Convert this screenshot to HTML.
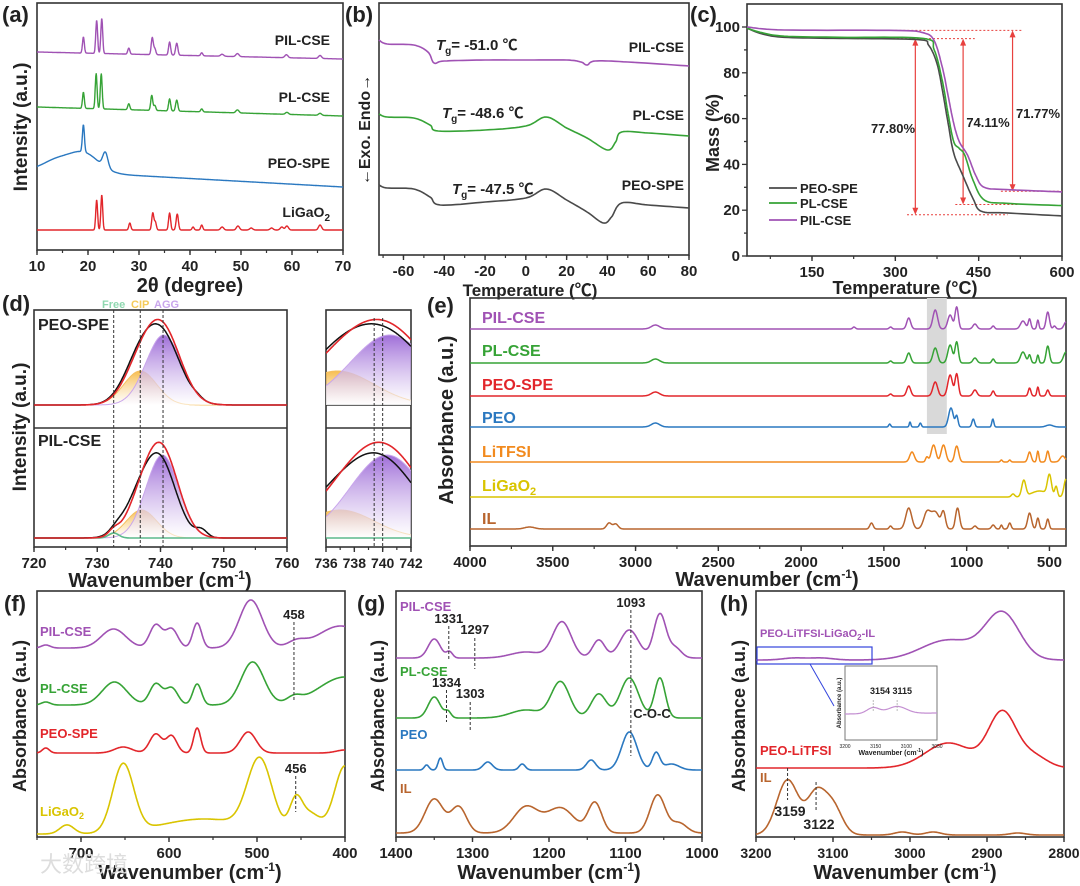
<!DOCTYPE html>
<html><head><meta charset="utf-8"><title>Composite figure</title>
<style>html,body{margin:0;padding:0;background:#fff}svg{display:block}</style>
</head><body>
<svg id="fig" width="1080" height="886" viewBox="0 0 1080 886" xmlns="http://www.w3.org/2000/svg">
<defs>
<linearGradient id="gAgg" x1="0" y1="0" x2="0" y2="1"><stop offset="0" stop-color="#9a66d6" stop-opacity="0.95"/><stop offset="1" stop-color="#ffffff" stop-opacity="0.6"/></linearGradient>
<linearGradient id="gCip" x1="0" y1="0" x2="0" y2="1"><stop offset="0" stop-color="#f6b63c" stop-opacity="0.9"/><stop offset="1" stop-color="#ffffff" stop-opacity="0.6"/></linearGradient>
<linearGradient id="gFree" x1="0" y1="0" x2="0" y2="1"><stop offset="0" stop-color="#59b98a" stop-opacity="0.9"/><stop offset="1" stop-color="#ffffff" stop-opacity="0.6"/></linearGradient>
<clipPath id="cDtop"><rect x="34" y="310" width="253" height="118"/></clipPath>
<clipPath id="cDbot"><rect x="34" y="428" width="253" height="119"/></clipPath>
<clipPath id="cItop"><rect x="326" y="310" width="85" height="95"/></clipPath>
<clipPath id="cIbot"><rect x="326" y="428" width="85" height="119"/></clipPath>
</defs>
</svg>
<script>
// ---------------- DATA ----------------
const xrdTicks=[10,20,30,40,50,60,70];
const xrdPIL=[[19.1,16,0.18],[21.7,33,0.18],[22.7,35,0.18],[28,6,0.2],[32.6,17,0.2],[33.1,6,0.2],[36,13,0.2],[37.4,12,0.22],[42.3,3,0.2],[46.3,2,0.3],[49.3,3,0.3],[58.9,3,0.3],[65.5,3,0.3]];
const xrdPL=[[19.1,16,0.18],[21.6,35,0.18],[22.6,35,0.18],[28,6,0.2],[32.5,15,0.2],[33.1,5,0.2],[36,12,0.2],[37.4,11,0.22],[42.3,3,0.2],[49.3,3,0.3],[59,2,0.3],[65.5,2,0.3]];
const xrdPEO=[[13.5,9,2.5],[19,20,3],[19.1,27,0.2],[23.4,15,0.5]];
const xrdLGO=[[21.7,30,0.18],[22.7,35,0.18],[28.2,7,0.2],[32.7,17,0.2],[33.2,8,0.2],[36,17,0.2],[37.5,16,0.22],[40.6,3,0.2],[42.3,5,0.2],[46.3,3,0.3],[49.4,4,0.3],[52,2,0.3],[56,2,0.3],[58,3,0.3],[59,4,0.3],[65.5,5,0.3]];
const xrdBgPIL=[7,0], xrdBgPL=[9,0], xrdBgPEO=[17,0], xrdBgLGO=[0,0];
const dscTicks=[-60,-40,-20,0,20,40,60,80];
const dscPIL=[[-72,30],[-68,26],[-55,25],[-48,18],[-45,7],[-40,9],[-20,10],[0,10],[20,10],[27,8],[30,5],[34,9],[50,8],[80,4]];
const dscPL=[[-72,36],[-68,33],[-55,32],[-47,25],[-43,19],[-20,20],[0,24],[10,33],[20,22],[30,12],[40,0],[44,8],[47,18],[60,17],[80,14]];
const dscPEO=[[-72,40],[-68,37],[-55,36],[-47,28],[-42,20],[-20,23],[0,27],[10,36],[20,25],[30,13],[38,2],[42,8],[47,22],[60,20],[80,17]];
const tgaTicks=[150,300,450,600], massTicks=[0,20,40,60,80,100];
const tgaPEO=[[33,99.5],[60,97],[100,95.5],[200,95],[340,94.5],[360,92],[375,84],[385,72],[395,58],[405,45],[420,36],[440,25],[455,19.5],[500,18.8],[600,17.5]];
const tgaPL=[[33,99.5],[60,97.5],[100,96],[200,95.5],[350,95],[370,90],[385,76],[395,62],[405,50],[415,47],[425,44],[440,33],[460,24.5],[500,23],[600,22]];
const tgaPIL=[[33,100],[100,98.7],[300,98.5],[350,97.5],[370,94],[385,82],[395,70],[405,58],[415,50],[430,44],[445,35],[460,30],[500,29],[600,28]];
const lossValues=['77.80%','74.11%','71.77%'];
const dTicks=[720,730,740,750,760], dInsetTicks=[736,738,740,742];
const dTopAgg=[[740.5,70,2.8]], dTopCip=[[736.8,34,2.6]];
const dTopExp=[[740.2,68,2.9],[736.4,32,2.5],[745.8,2,0.8]];
const dBotAgg=[[740.3,83,2.6]], dBotCip=[[737,28,2.4]], dBotFree=[[732.6,5,0.8]];
const dBotExp=[[739.8,78,2.6],[736,24,2.3],[746.5,7,0.9],[733,4,1]];
const dMarkers=[732.6,736.8,740.4];
const eTicks=[4000,3500,3000,2500,2000,1500,1000,500];
const ePIL=[[2880,4,25],[1680,2,8],[1460,2,8],[1350,11,12],[1190,19,14],[1100,14,14],[1060,22,10],[950,5,12],[840,3,8],[660,8,15],[620,10,8],[570,9,6],[510,17,10],[470,3,8],[400,7,12]];
const ePL=[[2880,4,25],[1460,2,8],[1350,10,12],[1190,15,14],[1100,18,14],[1060,21,10],[950,5,12],[840,4,8],[660,11,15],[620,8,8],[570,8,6],[510,17,10],[400,11,15]];
const ePEOSPE=[[2880,4,25],[1460,2,8],[1350,10,12],[1190,14,14],[1100,21,14],[1060,22,10],[950,6,12],[840,5,8],[620,8,8],[570,9,6],[510,6,8]];
const ePEO=[[2880,4,25],[1465,3,6],[1342,5,5],[1280,4,6],[1095,19,14],[1060,11,8],[960,8,8],[842,8,6],[500,2,20]];
const eLiTFSI=[[1330,10,14],[1240,5,8],[1200,17,14],[1140,17,14],[1060,16,12],[790,2,6],[740,2,6],[620,10,10],[570,11,6],[510,11,8],[420,6,15]];
const eLGO=[[720,3,10],[655,16,12],[560,6,50],[500,20,12],[460,10,8],[400,18,12]];
const eIL=[[3640,2,30],[3160,6,15],[3120,5,15],[1575,6,10],[1460,3,8],[1350,21,18],[1240,16,20],[1190,17,25],[1140,16,12],[1055,21,12],[950,3,10],[840,4,10],[790,4,6],[740,6,8],[620,16,12],[570,11,8],[510,10,8]];
const fTicks=[700,600,500,400];
const fPIL=[[740,3,5],[663,19,14],[615,23,7],[597,19,7],[568,25,5],[507,48,13],[455,6,10],[405,22,25]];
const fPL=[[740,3,5],[662,23,14],[615,21,7],[597,17,7],[568,21,5],[505,43,13],[458,6,8],[400,28,30]];
const fPEO=[[740,5,4],[652,6,10],[615,19,7],[597,17,6],[568,25,4],[510,21,9],[400,3,10]];
const fLGO=[[716,9,8],[652,68,12],[560,15,50],[497,70,14],[456,28,7],[440,20,12],[400,68,12]];
const gTicks=[1400,1300,1200,1100,1000];
const gPIL=[[1350,19,8],[1330,6,4],[1230,6,20],[1183,36,12],[1135,18,8],[1095,28,12],[1055,44,8],[1035,10,8]];
const gPL=[[1350,21,8],[1332,6,4],[1230,8,20],[1185,36,12],[1135,24,10],[1095,40,12],[1055,40,7]];
const gPEO=[[1360,5,3],[1342,12,3],[1280,8,6],[1235,6,4],[1145,10,6],[1095,38,10],[1060,17,5],[1040,6,10]];
const gIL=[[1350,34,12],[1318,26,10],[1230,26,16],[1185,25,18],[1140,30,9],[1058,38,10],[1030,10,10]];
const hTicks=[3200,3100,3000,2900,2800];
const hPIL=[[2880,46,22],[2950,20,35],[3150,2,15],[3115,2,15]];
const hPEOL=[[2880,55,18],[2950,25,30],[2840,12,18]];
const hIL=[[3159,55,14],[3122,40,12],[3100,28,12],[3010,3,10],[2970,3,10],[2860,2,10]];
const hInset=[[3154,6,10],[3115,7,15]];

// ---------------- HELPERS ----------------
const NS='http://www.w3.org/2000/svg';
const svg=document.getElementById('fig');
const FONT='"Liberation Sans","Noto Sans CJK SC",sans-serif';
function mk(tag,attrs,parent){const e=document.createElementNS(NS,tag);for(const k in attrs)e.setAttribute(k,attrs[k]);(parent||svg).appendChild(e);return e;}
function txt(x,y,s,o,parent){o=o||{};const e=mk('text',{x:x,y:y,'font-size':o.fs||14,'font-weight':o.fw||'bold',fill:o.fill||'#222','text-anchor':o.anchor||'start','font-family':FONT},parent);if(o.rot)e.setAttribute('transform','rotate('+o.rot+' '+x+' '+y+')');if(o.html)e.innerHTML=s;else e.textContent=s;return e;}
function axis(x0,y0,x1,y1,xa,xb,parent){const r=mk('rect',{x:x0,y:y0,width:x1-x0,height:y1-y0,fill:'none',stroke:'#333','stroke-width':1.6},parent);
 
 
 return {x0:x0,y0:y0,x1:x1,y1:y1,xa:xa,xb:xb,X:function(v){return x0+(v-xa)/(xb-xa)*(x1-x0);}};}
function xticks(ax,ticks,minorStep,fs,parent){
 const lo=Math.min(ax.xa,ax.xb),hi=Math.max(ax.xa,ax.xb);
 for(let v=Math.ceil(lo/minorStep)*minorStep;v<=hi+1e-9;v+=minorStep){const x=ax.X(v);const l=mk('line',{x1:x,y1:ax.y1,x2:x,y2:ax.y1+3,stroke:'#333','stroke-width':1.2},parent);
  
  }
 ticks.forEach(function(v){const x=ax.X(v);const l=mk('line',{x1:x,y1:ax.y1,x2:x,y2:ax.y1+5,stroke:'#333','stroke-width':1.4},parent);
  
  
  const t=txt(x,ax.y1+21,String(v),{fs:fs||15,anchor:'middle'},parent);
  
  });}
function gsum(p,v){let s=0;for(const q of p)s+=q[1]*Math.exp(-((v-q[0])*(v-q[0]))/(2*q[2]*q[2]));return s;}
function specPts(ax,peaks,off,bg,n){bg=bg||[0,0];n=n||700;const pts=[];for(let i=0;i<=n;i++){const f=i/n;const v=ax.xa+(ax.xb-ax.xa)*f;pts.push([ax.X(v),off-(bg[0]+(bg[1]-bg[0])*f+gsum(peaks,v))]);}return pts;}
function pathD(pts){return 'M'+pts.map(function(p){return p[0].toFixed(1)+','+p[1].toFixed(1);}).join('L');}
function line(pts,color,w,parent,extra){const a={d:pathD(pts),fill:'none',stroke:color,'stroke-width':w||1.6,'stroke-linejoin':'round'};if(extra)for(const k in extra)a[k]=extra[k];return mk('path',a,parent);}
function catmull(arr){const out=[];for(let i=0;i<arr.length-1;i++){const p0=arr[Math.max(0,i-1)],p1=arr[i],p2=arr[i+1],p3=arr[Math.min(arr.length-1,i+2)];for(let k=0;k<10;k++){const t=k/10,t2=t*t,t3=t2*t;const f=function(a,b,c,d){return 0.5*(2*b+(-a+c)*t+(2*a-5*b+4*c-d)*t2+(-a+3*b-3*c+d)*t3);};out.push([f(p0[0],p1[0],p2[0],p3[0]),f(p0[1],p1[1],p2[1],p3[1])]);}}out.push(arr[arr.length-1]);return out;}
function grp(name){const g=mk('g',{});return g;}
const C={pur:'#a052b4',grn:'#36a336',blu:'#2a78c0',red:'#e2262b',org:'#f28a1e',yel:'#d9c400',brn:'#b8652e',drk:'#4a4a4a'};

// ---------------- (a) XRD ----------------
(function(){const g=grp('panel-a-xrd');
 const ax=axis(37,3,343,250,10,70,g);
 xticks(ax,xrdTicks,5,15,g);
 const series=[[xrdPIL,59,xrdBgPIL,C.pur,'PIL-CSE',45],[xrdPL,116,xrdBgPL,C.grn,'PL-CSE',102],[xrdPEO,187,xrdBgPEO,C.blu,'PEO-SPE',168],[xrdLGO,230,xrdBgLGO,C.red,'LiGaO<tspan font-size="10" dy="4">2</tspan>',217]];
 series.forEach(function(s){const p=line(specPts(ax,s[0],s[1],s[2],900),s[3],1.4,g);
  
  
  const t=txt(330,s[5],s[4],{fs:14,anchor:'end',html:true},g);
  
  });
 const t1=txt(190,292,'2θ (degree)',{fs:20,anchor:'middle'},g);
 
 
 const t2=txt(27,127,'Intensity (a.u.)',{fs:19,anchor:'middle',rot:-90},g);
 
 
 const t3=txt(2,22,'(a)',{fs:22},g);
 
 
})();

// ---------------- (b) DSC ----------------
(function(){const g=grp('panel-b-dsc');
 const ax=axis(379,3,689,255,-72,80,g);
 xticks(ax,dscTicks,10,15,g);
 const series=[[dscPIL,70,C.pur,'PIL-CSE',52,'-51.0',436,50],[dscPL,150,C.grn,'PL-CSE',120,'-48.6',442,118],[dscPEO,225,C.drk,'PEO-SPE',190,'-47.5',452,194]];
 series.forEach(function(s){const pts=catmull(s[0].map(function(d){return [ax.X(d[0]),s[1]-d[1]];}));
  const p=line(pts,s[2],1.6,g);
  
  
  const t=txt(684,s[4],s[3],{fs:14,anchor:'end'},g);
  
  
  const tg=txt(s[6],s[7],'<tspan font-style="italic">T</tspan><tspan font-size="10" dy="4">g</tspan><tspan dy="-4">= '+s[5]+' ℃</tspan>',{fs:15,html:true},g);
  
  });
 const t1=txt(530,296,'Temperature (℃)',{fs:17,anchor:'middle'},g);
 
 
 const t2=txt(370,130,'←Exo. Endo→',{fs:16,anchor:'middle',rot:-90},g);
 
 
 const t3=txt(345,22,'(b)',{fs:22},g);
 
 
})();

// ---------------- (c) TGA ----------------
(function(){const g=grp('panel-c-tga');
 const ax=axis(747,4,1062,256,33,600,g);
 const Y=function(m){return 256-m*2.29;};
 xticks(ax,tgaTicks,75,15,g);
 for(let m=0;m<=100;m+=10){const l=mk('line',{x1:747,y1:Y(m),x2:m%20===0?742:744,y2:Y(m),stroke:'#333','stroke-width':1.3},g);
  
  }
 massTicks.forEach(function(m){const t=txt(740,Y(m)+5,String(m),{fs:15,anchor:'end'},g);
  
  });
 const refs=[[231,443,94.9],[300,530,98.5],[321,502,18],[408,520,22.5],[490,600,28.3]];
 refs.forEach(function(r){const l=mk('line',{x1:ax.X(r[0]),x2:ax.X(r[1]),y1:Y(r[2]),y2:Y(r[2]),stroke:'#e8413f','stroke-width':1,'stroke-dasharray':'2,2'},g);
  
  });
 const arrows=[[336,94.9,18,lossValues[0],893,128],[422,94.9,22.5,lossValues[1],988,122],[511,98.5,28.3,lossValues[2],1038,113]];
 arrows.forEach(function(a){const x=ax.X(a[0]),y1=Y(a[1]),y2=Y(a[2]);
  const l=mk('line',{x1:x,x2:x,y1:y1+4,y2:y2-4,stroke:'#e8413f','stroke-width':1.2},g);
  
  
  const h1=mk('path',{d:'M'+(x-3)+','+(y1+7)+'L'+x+','+y1+'L'+(x+3)+','+(y1+7)+'Z',fill:'#e8413f'},g);
  
  
  const h2=mk('path',{d:'M'+(x-3)+','+(y2-7)+'L'+x+','+y2+'L'+(x+3)+','+(y2-7)+'Z',fill:'#e8413f'},g);
  
  
  const t=txt(a[4],a[5]+5,a[3],{fs:13,anchor:'middle'},g);
  
  });
 const series=[[tgaPEO,C.drk,'PEO-SPE',188],[tgaPL,C.grn,'PL-CSE',203],[tgaPIL,C.pur,'PIL-CSE',220]];
 series.forEach(function(s){const pts=catmull(s[0].map(function(d){return [ax.X(d[0]),Y(d[1])];}));
  const p=line(pts,s[1],1.6,g);
  
  
  const l=mk('line',{x1:769,x2:797,y1:s[3],y2:s[3],stroke:s[1],'stroke-width':1.8},g);
  
  
  const t=txt(800,s[3]+5,s[2],{fs:13},g);
  
  });
 const t1=txt(905,294,'Temperature (°C)',{fs:18,anchor:'middle'},g);
 
 
 const t2=txt(719,133,'Mass (%)',{fs:18,anchor:'middle',rot:-90},g);
 
 
 const t3=txt(690,22,'(c)',{fs:22},g);
 
 
})();

// ---------------- (d) Gaussian fits ----------------
(function(){const g=grp('panel-d-fit');
 const ax=axis(34,310,287,547,720,760,g);
 const ai=axis(326,310,411,547,736,742,g);
 [[34,287,428],[326,411,405],[326,411,428]].forEach(function(d){const l=mk('line',{x1:d[0],x2:d[1],y1:d[2],y2:d[2],stroke:'#333','stroke-width':1.5},g);
  
  });
 xticks(ax,dTicks,5,15,g);
 xticks(ai,dInsetTicks,1,14,g);
 function fill(a,peaks,off,grad,clip,name){const pts=specPts(a,peaks,off,[0,0],300);const d=pathD(pts)+'L'+a.X(a.xb)+','+off+'L'+a.X(a.xa)+','+off+'Z';
  const p=mk('path',{d:d,fill:'url(#'+grad+')',stroke:'none','clip-path':'url(#'+clip+')'},g);
  
  
  const e=line(pts,grad==='gAgg'?'#c9a6ec':(grad==='gCip'?'#f5c060':'#6cc49a'),1,g,{'clip-path':'url(#'+clip+')'});
  
  }
 function sumOf(){const a=[];for(const p of arguments)for(const q of p)a.push(q);return a;}
 [[ax,'cDtop','cDbot'],[ai,'cItop','cIbot']].forEach(function(z){const a=z[0];
  fill(a,dTopCip,405,'gCip',z[1],'cip-component');
  fill(a,dTopAgg,405,'gAgg',z[1],'agg-component');
  fill(a,dBotCip,538,'gCip',z[2],'cip-component');
  fill(a,dBotAgg,538,'gAgg',z[2],'agg-component');
  const fr=line(specPts(a,dBotFree,538,[0,0],300),'#5bb98b',1.6,g,{'clip-path':'url(#'+z[2]+')'});
  
  
  const b1=line(specPts(a,dTopExp,405,[0,0],300),'#111',1.5,g,{'clip-path':'url(#'+z[1]+')'});
  
  
  const r1=line(specPts(a,sumOf(dTopAgg,dTopCip),405,[0,0],300),C.red,1.6,g,{'clip-path':'url(#'+z[1]+')'});
  
  
  const b2=line(specPts(a,dBotExp,538,[0,0],300),'#111',1.5,g,{'clip-path':'url(#'+z[2]+')'});
  
  
  const r2=line(specPts(a,sumOf(dBotAgg,dBotCip,dBotFree),538,[0,0],300),C.red,1.6,g,{'clip-path':'url(#'+z[2]+')'});
  
  });
 dMarkers.forEach(function(v){const l=mk('line',{x1:ax.X(v),x2:ax.X(v),y1:310,y2:547,stroke:'#333','stroke-width':1,'stroke-dasharray':'3,2'},g);
  
  });
 [739.4,740].forEach(function(v){const l=mk('line',{x1:ai.X(v),x2:ai.X(v),y1:318,y2:547,stroke:'#333','stroke-width':1,'stroke-dasharray':'3,2'},g);
  
  });
 const lb=[['PEO-SPE',38,330],['PIL-CSE',38,446]];
 lb.forEach(function(s){const t=txt(s[1],s[2],s[0],{fs:16},g);
  
  });
 const leg=[['Free',102,'#8fd8b0'],['CIP',131,'#f5cb5a'],['AGG',154,'#c9a6ec']];
 leg.forEach(function(s){const t=txt(s[1],308,s[0],{fs:11,fill:s[2]},g);
  
  });
 const t1=txt(160,587,'Wavenumber (cm<tspan font-size="12" dy="-8">-1</tspan><tspan dy="8">)</tspan>',{fs:20,anchor:'middle',html:true},g);
 
 
 const t2=txt(26,427,'Intensity (a.u.)',{fs:19,anchor:'middle',rot:-90},g);
 
 
 const t3=txt(2,311,'(d)',{fs:22},g);
 
 
})();

// ---------------- (e) FTIR ----------------
(function(){const g=grp('panel-e-ftir');
 const ax=axis(470,298,1066,546,4000,400,g);
 const band=mk('rect',{x:ax.X(1240),y:298,width:ax.X(1120)-ax.X(1240),height:136,fill:'#d9d9d9'},g);
 
 
 xticks(ax,eTicks,250,15,g);
 const series=[[ePIL,329,C.pur,'PIL-CSE',323],[ePL,363,C.grn,'PL-CSE',356],[ePEOSPE,396,C.red,'PEO-SPE',390],[ePEO,427,C.blu,'PEO',423],[eLiTFSI,462,C.org,'LiTFSI',457],[eLGO,497,C.yel,'LiGaO<tspan font-size="11" dy="4">2</tspan>',491],[eIL,529,C.brn,'IL',524]];
 series.forEach(function(s){const p=line(specPts(ax,s[0],s[1],[0,0],1200),s[2],1.5,g);
  
  
  const t=txt(482,s[4],s[3],{fs:16,fill:s[2],html:true},g);
  
  });
 const t1=txt(767,586,'Wavenumber (cm<tspan font-size="12" dy="-8">-1</tspan><tspan dy="8">)</tspan>',{fs:20,anchor:'middle',html:true},g);
 
 
 const t2=txt(453,420,'Absorbance (a.u.)',{fs:20,anchor:'middle',rot:-90},g);
 
 
 const t3=txt(427,313,'(e)',{fs:22},g);
 
 
})();

// ---------------- (f) ----------------
(function(){const g=grp('panel-f-ftir-low');
 const ax=axis(37,591,345,837,750,400,g);
 xticks(ax,fTicks,50,15,g);
 const series=[[fPIL,648,C.pur,'PIL-CSE',636],[fPL,705,C.grn,'PL-CSE',693],[fPEO,753,C.red,'PEO-SPE',738],[fLGO,834,C.yel,'LiGaO<tspan font-size="9" dy="3">2</tspan>',816]];
 series.forEach(function(s){const p=line(specPts(ax,s[0],s[1],[0,0],700),s[2],1.6,g);
  
  
  const t=txt(40,s[4],s[3],{fs:13,fill:s[2],html:true},g);
  
  });
 [[458,'458',619,622,700],[456,'456',773,776,812]].forEach(function(m){const x=ax.X(m[0]);
  const l=mk('line',{x1:x,x2:x,y1:m[3],y2:m[4],stroke:'#333','stroke-width':1,'stroke-dasharray':'3,2'},g);
  
  
  const t=txt(x,m[2],m[1],{fs:13,anchor:'middle'},g);
  
  });
 const t1=txt(190,879,'Wavenumber (cm<tspan font-size="12" dy="-8">-1</tspan><tspan dy="8">)</tspan>',{fs:20,anchor:'middle',html:true},g);
 
 
 const t2=txt(26,716,'Absorbance (a.u.)',{fs:18,anchor:'middle',rot:-90},g);
 
 
 const t3=txt(4,611,'(f)',{fs:22},g);
 
 
 const wm=txt(40,872,'大数跨境',{fs:22,fill:'#dddddd',fw:'normal'},g);
 
 
})();

// ---------------- (g) ----------------
(function(){const g=grp('panel-g-ftir-mid');
 const ax=axis(396,591,702,837,1400,1000,g);
 xticks(ax,gTicks,50,15,g);
 const series=[[gPIL,658,C.pur,'PIL-CSE',611],[gPL,718,C.grn,'PL-CSE',676],[gPEO,770,C.blu,'PEO',739],[gIL,833,C.brn,'IL',793]];
 series.forEach(function(s){const p=line(specPts(ax,s[0],s[1],[0,0],700),s[2],1.6,g);
  
  
  const t=txt(400,s[4],s[3],{fs:13,fill:s[2]},g);
  
  });
 const marks=[[1331,'1331',623,626,660],[1297,'1297',634,638,669],[1334,'1334',687,690,722],[1303,'1303',698,702,732],[1093,'1093',607,610,756]];
 marks.forEach(function(m){const x=ax.X(m[0]);
  const l=mk('line',{x1:x,x2:x,y1:m[3],y2:m[4],stroke:'#333','stroke-width':1,'stroke-dasharray':'3,2'},g);
  
  
  const t=txt(x,m[2],m[1],{fs:13,anchor:'middle'},g);
  
  });
 const co=txt(652,718,'C-O-C',{fs:13,anchor:'middle'},g);
 
 
 const t1=txt(549,879,'Wavenumber (cm<tspan font-size="12" dy="-8">-1</tspan><tspan dy="8">)</tspan>',{fs:20,anchor:'middle',html:true},g);
 
 
 const t2=txt(384,716,'Absorbance (a.u.)',{fs:18,anchor:'middle',rot:-90},g);
 
 
 const t3=txt(357,611,'(g)',{fs:22},g);
 
 
})();

// ---------------- (h) ----------------
(function(){const g=grp('panel-h-ftir-high');
 const ax=axis(756,591,1064,837,3200,2800,g);
 xticks(ax,hTicks,50,14,g);
 const series=[[hPIL,660,C.pur,'PEO-LiTFSI-LiGaO<tspan font-size="8" dy="3">2</tspan><tspan dy="-3">-IL</tspan>',637,11],[hPEOL,768,C.red,'PEO-LiTFSI',755,13],[hIL,835,C.brn,'IL',782,13]];
 series.forEach(function(s){const p=line(specPts(ax,s[0],s[1],[0,0],600),s[2],1.6,g);
  
  
  const t=txt(760,s[4],s[3],{fs:s[5],fill:s[2],html:true},g);
  
  });
 [[3159,'3159',790,816,768,800],[3122,'3122',819,829,782,811]].forEach(function(m){const x=ax.X(m[0]);
  const l=mk('line',{x1:x,x2:x,y1:m[4],y2:m[5],stroke:'#333','stroke-width':1,'stroke-dasharray':'3,2'},g);
  
  
  const t=txt(m[2],m[3],m[1],{fs:14,anchor:'middle'},g);
  
  });
 const zr=mk('rect',{x:757,y:647,width:115,height:17,fill:'none',stroke:'#3344dd','stroke-width':1.2},g);
 
 
 const zl=mk('line',{x1:810,y1:664,x2:834,y2:706,stroke:'#3344dd','stroke-width':1},g);
 
 
 const ib=mk('rect',{x:845,y:666,width:92,height:74,fill:'#fff',stroke:'#777','stroke-width':1},g);
 
 
 const iax={xa:3200,xb:3050,X:function(v){return 845+(v-3200)/(3050-3200)*92;}};
 const ip=line(specPts(iax,hInset,716,[2,3],200),'#c48fd2',1.2,g);
 
 
 [3154,3115].forEach(function(v){const l=mk('line',{x1:iax.X(v),x2:iax.X(v),y1:700,y2:712,stroke:'#aaa','stroke-width':0.8,'stroke-dasharray':'2,1'},g);
  
  });
 const il=txt(891,694,'3154 3115',{fs:9,anchor:'middle'},g);
 
 
 [[3200,'3200'],[3150,'3150'],[3100,'3100'],[3050,'3050']].forEach(function(d){const t=txt(iax.X(d[0]),748,d[1],{fs:5,anchor:'middle',fw:'normal'},g);
  
  });
 const ix=txt(891,755,'Wavenumber (cm<tspan font-size="5" dy="-3">-1</tspan><tspan dy="3">)</tspan>',{fs:7,anchor:'middle',html:true},g);
 
 
 const iy=txt(841,703,'Absorbance (a.u.)',{fs:6,anchor:'middle',rot:-90},g);
 
 
 const t1=txt(905,879,'Wavenumber (cm<tspan font-size="12" dy="-8">-1</tspan><tspan dy="8">)</tspan>',{fs:20,anchor:'middle',html:true},g);
 
 
 const t2=txt(745,716,'Absorbance (a.u.)',{fs:18,anchor:'middle',rot:-90},g);
 
 
 const t3=txt(720,611,'(h)',{fs:22},g);
 
 
})();
</script>
</body></html>
